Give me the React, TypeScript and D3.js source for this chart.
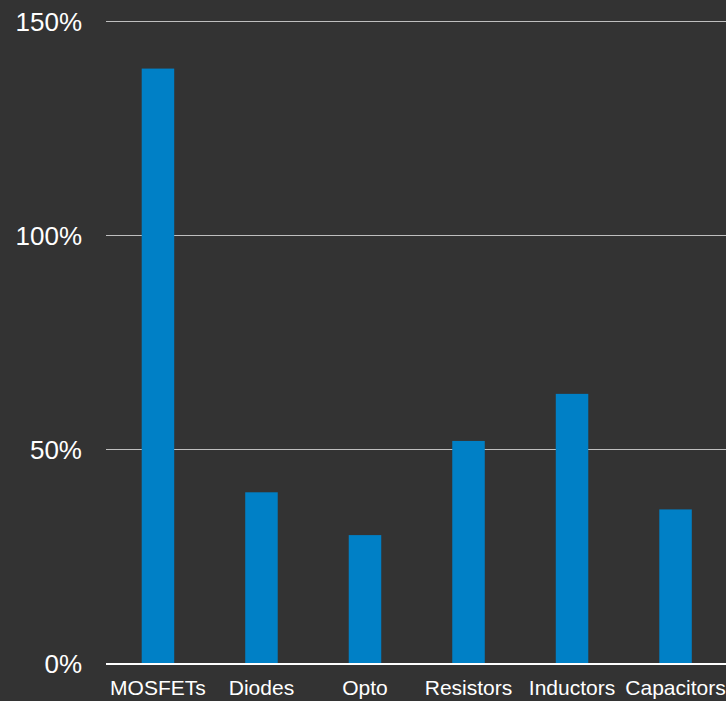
import React from "react";
import * as d3 from "d3";

const categories = ["MOSFETs", "Diodes", "Opto", "Resistors", "Inductors", "Capacitors"];
const values = [139, 40, 30, 52, 63, 36];
const yTicks = [0, 50, 100, 150];

const W = 726;
const H = 701;
const left = 106;
const right = 726;
const top = 21.5;
const bottom = 663.5;

export default function App() {
  const x = d3.scaleBand<string>().domain(categories).range([106.2, 727.3]).paddingInner(0.686).paddingOuter(0.343);
  const y = d3.scaleLinear().domain([0, 150]).range([bottom, top]);
  const font = "Arial, 'Liberation Sans', sans-serif";
  return (
    <svg width={W} height={H} style={{ position: "absolute", left: 0, top: 0, background: "#333333" }}>
      <rect x={0} y={0} width={W} height={H} fill="#333333" />
      {yTicks.filter((t) => t > 0).map((t) => (
        <line key={"g" + t} x1={left} x2={right} y1={y(t)} y2={y(t)} stroke="#bfbfbf" strokeWidth={1} />
      ))}
      {categories.map((c, i) => (
        <rect key={c} x={x(c)} y={y(values[i])} width={x.bandwidth()} height={y(0) - y(values[i])} fill="#0080c6" />
      ))}
      <line x1={left} x2={right} y1={y(0) + 0.5} y2={y(0) + 0.5} stroke="#ffffff" strokeWidth={2} />
      {yTicks.map((t) => (
        <text key={"t" + t} x={82} y={y(t)} dy="0.35em" textAnchor="end" fill="#ffffff" fontFamily={font} fontSize={26}>
          {t + "%"}
        </text>
      ))}
      {categories.map((c) => (
        <text key={"l" + c} x={(x(c) as number) + x.bandwidth() / 2} y={695} textAnchor="middle" fill="#ffffff" fontFamily={font} fontSize={21}>
          {c}
        </text>
      ))}
    </svg>
  );
}
